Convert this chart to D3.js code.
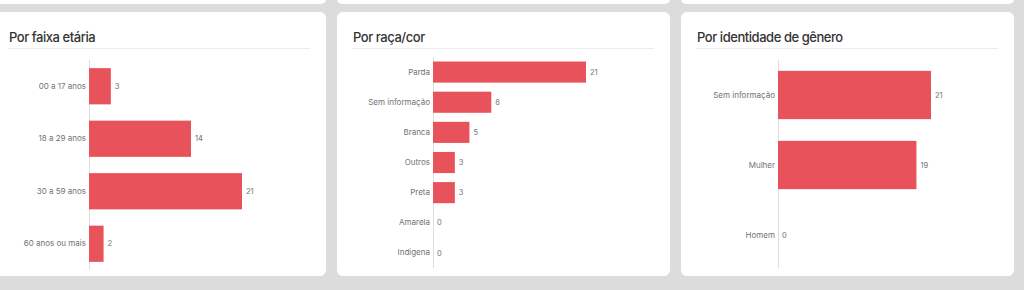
<!DOCTYPE html>
<html><head><meta charset="utf-8">
<script src="https://cdn.jsdelivr.net/npm/d3@7"></script>
<style>
html,body{margin:0;padding:0;background:#dcdcdc;width:1024px;height:290px;overflow:hidden;}
svg{display:block;}
</style></head>
<body>
<svg id="c" width="1024" height="290"></svg>
<script>
const ageCats = ["00 a 17 anos","18 a 29 anos","30 a 59 anos","60 anos ou mais"];
const ageVals = [3,14,21,2];
const raceCats = ["Parda","Sem informação","Branca","Outros","Preta","Amarela","Indigena"];
const raceVals = [21,8,5,3,3,0,0];
const genderCats = ["Sem informação","Mulher","Homem"];
const genderVals = [21,19,0];
const titles = ["Por faixa etária","Por raça/cor","Por identidade de gênero"];

const svg = d3.select("#c");
const BAR = "#e8535b";

// top row remnants
[[-10,326],[337,670],[681,1014]].forEach(([x0,x1])=>{
  svg.append("rect").attr("x",x0).attr("y",-10).attr("width",x1-x0).attr("height",14).attr("rx",5).attr("fill","#fff");
});

const panels = [
  {x0:-10,x1:326,axisX:89,title:titles[0],tx:9,lineX0:8,lineX1:310,cats:ageCats,vals:ageVals,y0:60,y1:270,pad:0.31,ax0:60,ax1:270},
  {x0:337,x1:670,axisX:433,title:titles[1],tx:353,lineX0:352,lineX1:654,cats:raceCats,vals:raceVals,y0:57,y1:268,pad:0.3,ax0:57,ax1:268},
  {x0:681,x1:1014,axisX:778,title:titles[2],tx:697,lineX0:696,lineX1:998,cats:genderCats,vals:genderVals,y0:60,y1:270,pad:0.31,ax0:60,ax1:268}
];

panels.forEach(p=>{
  const g = svg.append("g");
  g.append("rect").attr("x",p.x0).attr("y",12).attr("width",p.x1-p.x0).attr("height",264).attr("rx",6).attr("fill","#fff");
  g.append("text").attr("x",p.tx).attr("y",42).text(p.title)
    .attr("font-family","Inter, 'Open Sans', sans-serif").attr("font-size",13).attr("font-weight",500)
    .attr("letter-spacing","-0.45px").attr("fill","#333");
  g.append("line").attr("x1",p.lineX0).attr("x2",p.lineX1).attr("y1",48.5).attr("y2",48.5).attr("stroke","#ececec");

  const x = d3.scaleLinear().domain([0,21]).range([p.axisX, p.axisX+153]);
  const y = d3.scaleBand().domain(p.cats).range([p.y0,p.y1]).paddingInner(p.pad).paddingOuter(p.pad/2);

  g.append("line").attr("x1",p.axisX+0.5).attr("x2",p.axisX+0.5).attr("y1",p.ax0).attr("y2",p.ax1).attr("stroke","#dedede");

  const yAxis = d3.axisLeft(y).tickSize(0).tickPadding(3);
  const ga = g.append("g").attr("transform",`translate(${p.axisX},0)`).call(yAxis);
  ga.select(".domain").remove();
  ga.selectAll("text").attr("font-family","Inter, 'Open Sans', sans-serif").attr("font-size",8).attr("fill","#727272");

  g.selectAll("rect.bar").data(p.vals).join("rect").attr("class","bar")
    .attr("x",x(0)).attr("y",(d,i)=>y(p.cats[i]))
    .attr("width",d=>x(d)-x(0)).attr("height",y.bandwidth()).attr("fill",BAR);

  g.selectAll("text.val").data(p.vals).join("text").attr("class","val")
    .attr("x",d=>x(d)+4).attr("y",(d,i)=>y(p.cats[i])+y.bandwidth()/2).attr("dy","0.35em")
    .attr("font-family","Inter, 'Open Sans', sans-serif").attr("font-size",7.5).attr("fill","#727272")
    .text(d=>d);
});
</script>
</body></html>
